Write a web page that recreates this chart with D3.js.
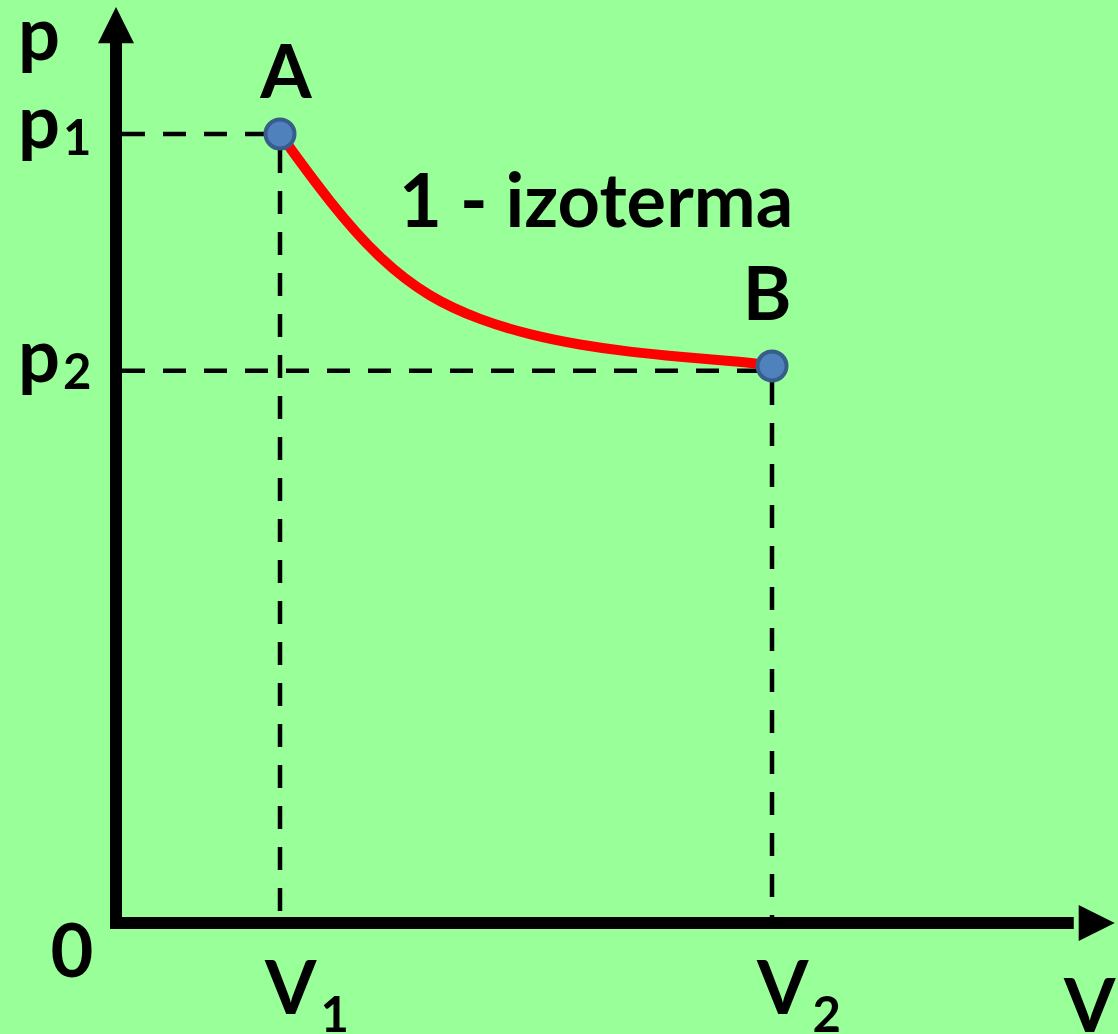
<!DOCTYPE html>
<html>
<head>
<meta charset="utf-8">
<script src="https://cdn.jsdelivr.net/npm/d3@7"></script>
<style>
  html, body { margin: 0; padding: 0; background: #99FF99; }
  svg { display: block; }
</style>
</head>
<body>
<svg id="pv_chart"></svg>
<script>
// state points (V in units of V1, p in units of p1)
const stateNames = ["A", "B"];
const stateV = [1, 4];
const stateP = [1, 0.706];
const tickV = [1, 4];
const tickP = [1, 0.7];
const tickVSub = ["1", "2"];
const tickPSub = ["1", "2"];
// points
const curveV = [1, 1.305, 1.610, 1.915, 2.220, 2.524, 2.829, 3.134, 3.439, 3.744, 3.927, 4];
const curveP = [1, 0.9125, 0.8403, 0.7921, 0.7643, 0.7452, 0.7326, 0.7237, 0.7174, 0.7123, 0.7085, 0.706];
const curveLabel = "1 - izoterma";

function drawIsotherm() {
    const width = 1118,
        height = 1034,
        fontMain = 74,
        fontSub = 49;

    const svg = d3.select('#pv_chart').attr('width', width).attr('height', height)
        .style('font-family', 'Lato, "Open Sans", sans-serif')
        .style('font-weight', 700);

    svg.append('rect').attr('width', width).attr('height', height).attr('fill', '#99FF99');

    const x = d3.scaleLinear().domain([0, 6]).range([116, 1100]);
    const y = d3.scaleLinear().domain([0, 1]).range([923, 134]);

    // dashed guide lines
    const gDash = svg.append('g')
        .attr('stroke', 'black')
        .attr('stroke-width', 4.5)
        .attr('stroke-dasharray', '23,18')
        .attr('fill', 'none');
    tickP.forEach((p, i) => {
        gDash.append('line')
            .attr('x1', x(0) + 6).attr('y1', y(p))
            .attr('x2', x(stateV[i])).attr('y2', y(p));
    });
    tickV.forEach((v, i) => {
        gDash.append('line')
            .attr('x1', x(v)).attr('y1', y(stateP[i]) + 16)
            .attr('x2', x(v)).attr('y2', y(0) - 6);
    });

    // axes with arrows
    const gAxis = svg.append('g');
    gAxis.append('path')
        .attr('d', d3.line()([[x(0), y(1.143)], [x(0), y(0)], [x(5.84), y(0)]]))
        .attr('stroke', 'black')
        .attr('stroke-width', 12)
        .attr('stroke-linejoin', 'miter')
        .attr('fill', 'none');
    // y arrow
    gAxis.append('path')
        .attr('d', d3.line()([[x(0), y(1.161)], [x(0) + 18, y(1.115)], [x(0) - 18, y(1.115)]]) + 'Z')
        .attr('fill', 'black');
    // x arrow
    gAxis.append('path')
        .attr('d', d3.line()([[x(6.09), y(0)], [x(5.87), y(0) - 18], [x(5.87), y(0) + 18]]) + 'Z')
        .attr('fill', 'black');

    // the isotherm
    const curve = curveV.map((v, i) => [x(v), y(curveP[i])]);
    svg.append('path')
        .attr('d', d3.line().curve(d3.curveBasis)(curve))
        .attr('stroke', '#FF0000')
        .attr('stroke-width', 10)
        .attr('fill', 'none');

    // state points
    svg.append('g').selectAll('circle')
        .data(stateNames)
        .join('circle')
        .attr('cx', (d, i) => x(stateV[i]))
        .attr('cy', (d, i) => y(stateP[i]))
        .attr('r', 14.5)
        .attr('fill', '#4F81BD')
        .attr('stroke', '#385D8A')
        .attr('stroke-width', 4);

    // point labels
    const labelDx = [6, -5], labelDy = [-36, -46];
    svg.append('g').selectAll('text')
        .data(stateNames)
        .join('text')
        .attr('x', (d, i) => x(stateV[i]) + labelDx[i])
        .attr('y', (d, i) => y(stateP[i]) + labelDy[i])
        .attr('text-anchor', 'middle')
        .style('font-size', fontMain + 'px')
        .text(d => d);

    // curve label
    svg.append('text')
        .attr('x', 399).attr('y', 227)
        .style('font-size', fontMain + 'px')
        .text(curveLabel);

    // p axis labels
    svg.append('text').attr('x', 18).attr('y', 60)
        .style('font-size', fontMain + 'px').text('p');
    const pLabelDy = [14, 11];
    tickP.forEach((p, i) => {
        const t = svg.append('text').attr('x', 18).attr('y', y(p) + pLabelDy[i])
            .style('font-size', fontMain + 'px');
        t.append('tspan').text('p');
        t.append('tspan').attr('dx', 3).attr('dy', 7)
            .style('font-size', fontSub + 'px').text(tickPSub[i]);
    });

    // V axis labels
    svg.append('text').attr('x', 72).attr('y', 977)
        .attr('text-anchor', 'middle')
        .style('font-size', fontMain + 'px').text('0');
    tickV.forEach((v, i) => {
        const t = svg.append('text').attr('x', x(v) - 15).attr('y', 1014)
            .style('font-size', fontMain + 'px');
        t.append('tspan').text('V');
        t.append('tspan').attr('dx', 4).attr('dy', 18)
            .style('font-size', fontSub + 'px').text(tickVSub[i]);
    });
    svg.append('text').attr('x', 1064).attr('y', 1032)
        .style('font-size', fontMain + 'px').text('V');
}

drawIsotherm();
</script>
</body>
</html>
